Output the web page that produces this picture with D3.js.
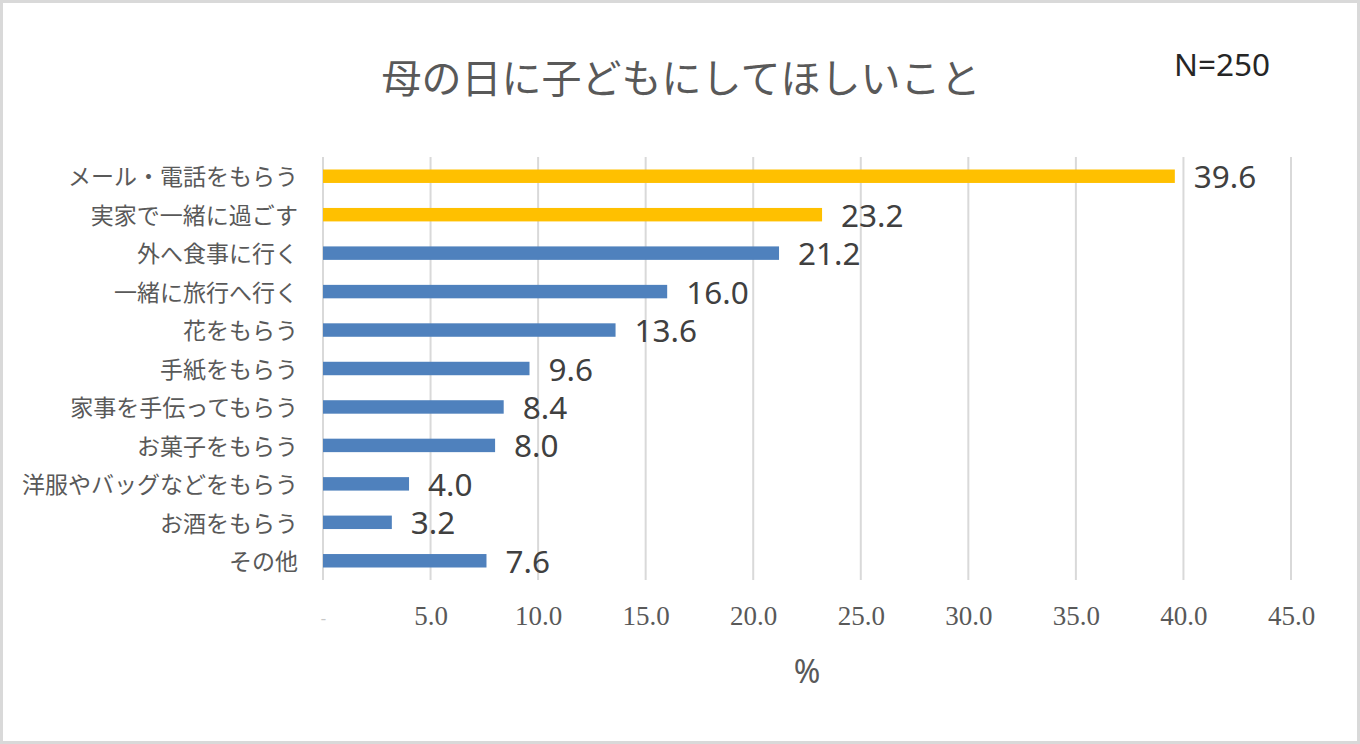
<!DOCTYPE html>
<html>
<head>
<meta charset="utf-8">
<script src="https://cdn.jsdelivr.net/npm/d3@7/dist/d3.min.js"></script>
<style>
  html, body { margin: 0; padding: 0; background: #fff; }
  svg { display: block; }
</style>
</head>
<body>
<svg id="chart" width="1360" height="744"></svg>
<script>
const categories = [
  "メール・電話をもらう",
  "実家で一緒に過ごす",
  "外へ食事に行く",
  "一緒に旅行へ行く",
  "花をもらう",
  "手紙をもらう",
  "家事を手伝ってもらう",
  "お菓子をもらう",
  "洋服やバッグなどをもらう",
  "お酒をもらう",
  "その他"
];
const values = [39.6, 23.2, 21.2, 16.0, 13.6, 9.6, 8.4, 8.0, 4.0, 3.2, 7.6];
const highlighted = ["メール・電話をもらう", "実家で一緒に過ごす"];
const xTicks = [0, 5, 10, 15, 20, 25, 30, 35, 40, 45];
const titleText = "母の日に子どもにしてほしいこと";
const sampleText = "N=250";
const axisTitle = "%";

const svg = d3.select("#chart");
const W = 1360, H = 744;

// frame
svg.append("rect").attr("x", 1.5).attr("y", 1.5).attr("width", W - 3).attr("height", H - 3)
  .attr("fill", "#fff").attr("stroke", "#d9d9d9").attr("stroke-width", 3);

const x = d3.scaleLinear().domain([0, 45]).range([323, 1291]);
const y = d3.scaleBand().domain(categories).range([157, 580]).paddingInner(0.65).paddingOuter(0.325);

// gridlines
svg.append("g").selectAll("line").data(xTicks).join("line")
  .attr("x1", d => x(d)).attr("x2", d => x(d))
  .attr("y1", 157).attr("y2", 580)
  .attr("stroke", "#d9d9d9").attr("stroke-width", 2);

// x axis tick labels
const xAxis = d3.axisBottom(x).tickValues(xTicks).tickSize(0)
  .tickFormat(d => d === 0 ? "-" : d3.format(".1f")(d));
const gx = svg.append("g").attr("transform", "translate(0,603)").call(xAxis);
gx.select(".domain").remove();
gx.selectAll("text")
  .attr("font-family", "'Liberation Serif', serif")
  .attr("font-size", 27).attr("fill", "#595959").attr("dy", "0.71em")
  .filter(d => d === 0).attr("fill", "#c8c8c8").attr("font-size", 16).attr("dy", "1.1em");

// bars
svg.append("g").selectAll("rect").data(categories).join("rect")
  .attr("x", x(0))
  .attr("y", d => y(d))
  .attr("width", (d, i) => x(values[i]) - x(0))
  .attr("height", y.bandwidth())
  .attr("fill", d => highlighted.includes(d) ? "#FFC000" : "#4F81BD");

// value labels
svg.append("g").selectAll("text").data(categories).join("text")
  .attr("x", (d, i) => x(values[i]) + 19)
  .attr("y", d => y(d) + y.bandwidth() / 2 + 12)
  .attr("font-family", "'Noto Sans', sans-serif")
  .attr("font-size", 31.5).attr("fill", "#404040")
  .text((d, i) => d3.format(".1f")(values[i]));

// y axis labels
const yAxis = d3.axisLeft(y).tickSize(0).tickPadding(0);
const gy = svg.append("g").attr("transform", "translate(298,0)").call(yAxis);
gy.select(".domain").remove();
gy.selectAll("text")
  .attr("font-family", "'Noto Sans CJK JP', sans-serif")
  .attr("font-size", 23).attr("fill", "#595959").attr("dy", "0.4em");

// title
svg.append("text").attr("x", 681).attr("y", 93).attr("text-anchor", "middle")
  .attr("font-family", "'Noto Sans CJK JP', sans-serif").attr("font-size", 40)
  .attr("fill", "#595959").text(titleText);

svg.append("text").attr("x", 1222).attr("y", 76).attr("text-anchor", "middle")
  .attr("font-family", "'Noto Sans', sans-serif").attr("font-size", 31.5)
  .attr("fill", "#262626").text(sampleText);

svg.append("text").attr("x", 807).attr("y", 683).attr("text-anchor", "middle")
  .attr("font-family", "'Noto Sans', sans-serif").attr("font-size", 32)
  .attr("fill", "#595959").text(axisTitle);
</script>
</body>
</html>
